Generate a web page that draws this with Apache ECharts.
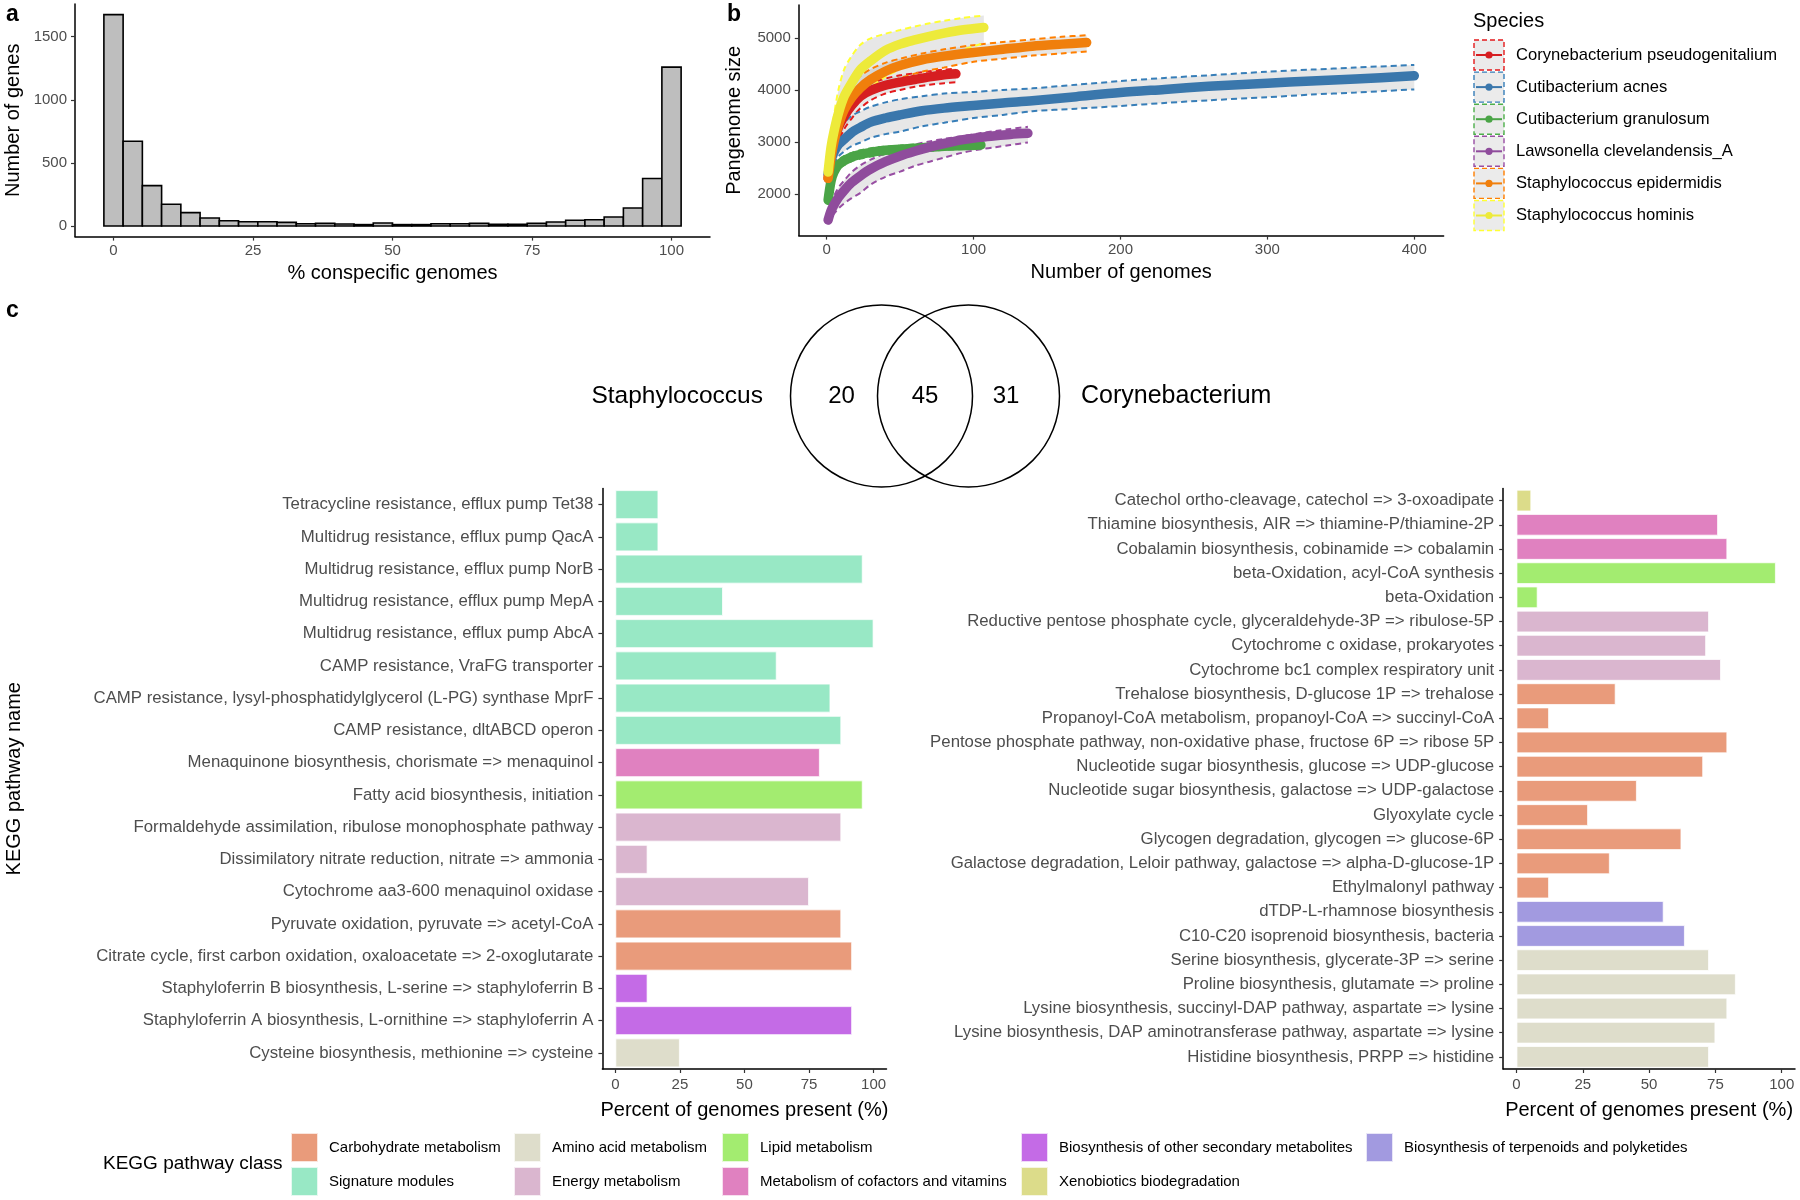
<!DOCTYPE html>
<html><head><meta charset="utf-8">
<script src="https://cdn.jsdelivr.net/npm/echarts@6/dist/echarts.min.js"></script>
<style>html,body{margin:0;padding:0;background:#fff}#chart{width:1800px;height:1200px}</style>
</head><body><div id="chart"></div>
<script>
// ---------- Panel a: histogram ----------
const histCounts = [1675, 672, 320, 172, 106, 63, 42, 34, 34, 29, 18, 21, 16, 11, 24, 11, 11, 18, 18, 21, 13, 13, 21, 32, 45, 50, 71, 143, 376, 1259];
const histXTicks = [0, 25, 50, 75, 100];
const histYTicks = [0, 500, 1000, 1500];

// ---------- Panel b: pangenome rarefaction ----------
const speciesNames = ['Corynebacterium pseudogenitalium', 'Cutibacterium acnes', 'Cutibacterium granulosum', 'Lawsonella clevelandensis_A', 'Staphylococcus epidermidis', 'Staphylococcus hominis'];
const corynN = [1,3,5,8,12,17,23,30,40,50,60,70,80,88];
const corynMean = [2300,2700,2980,3280,3500,3700,3880,3990,4090,4150,4200,4250,4290,4310];
const corynLo = [2150,2500,2750,3000,3250,3450,3650,3800,3930,4000,4060,4100,4130,4150];
const corynHi = [2450,2950,3250,3500,3750,3900,4030,4130,4220,4280,4320,4360,4390,4410];
const acnesN = [1,3,5,8,12,17,23,30,40,50,65,80,100,120,140,170,200,230,260,300,330,360,400];
const acnesMean = [2380,2650,2800,2950,3050,3180,3280,3380,3460,3520,3600,3650,3700,3750,3790,3870,3950,4010,4070,4130,4170,4210,4270];
const acnesLo = [2200,2450,2580,2720,2820,2920,2990,3080,3150,3200,3300,3370,3460,3520,3590,3640,3690,3750,3800,3860,3910,3950,4010];
const acnesHi = [2550,2850,3050,3250,3380,3500,3590,3680,3760,3820,3880,3930,3960,4000,4030,4100,4170,4230,4280,4350,4390,4430,4480];
const granN = [1,3,5,8,12,17,23,30,40,50,60,70,80,90,105];
const granMean = [1880,2250,2420,2560,2640,2710,2760,2800,2840,2860,2880,2900,2915,2925,2940];
const granLo = [1800,2150,2340,2470,2560,2630,2680,2720,2760,2790,2810,2830,2850,2860,2880];
const granHi = [1960,2350,2500,2650,2730,2790,2840,2880,2910,2930,2950,2960,2970,2980,2990];
const lawsN = [1,3,5,8,12,17,23,30,40,50,60,70,80,92,105,115,125,137];
const lawsMean = [1500,1680,1790,1930,2070,2220,2350,2480,2620,2730,2820,2900,2970,3040,3090,3120,3145,3165];
const lawsLo = [1420,1540,1620,1720,1820,1920,2020,2180,2330,2430,2540,2620,2700,2790,2860,2900,2940,2990];
const lawsHi = [1620,1820,1960,2120,2260,2420,2550,2660,2780,2870,2950,3010,3060,3110,3170,3210,3250,3290];
const epiN = [1,3,5,8,12,17,23,30,40,50,65,80,100,120,140,160,177];
const epiMean = [2300,2700,3000,3320,3620,3850,4040,4200,4360,4470,4580,4650,4720,4780,4840,4880,4910];
const epiLo = [2200,2500,2750,3050,3400,3600,3800,3980,4120,4230,4350,4430,4540,4600,4660,4700,4740];
const epiHi = [2400,2900,3250,3600,3900,4100,4270,4400,4520,4600,4700,4780,4860,4920,4970,5020,5050];
const homN = [1,3,5,8,12,17,23,30,40,50,60,70,80,92,107];
const homMean = [2420,2900,3200,3550,3880,4130,4390,4560,4760,4880,4960,5030,5090,5150,5200];
const homLo = [2250,2600,2900,3250,3500,3700,3880,4050,4250,4400,4520,4610,4690,4770,4900];
const homHi = [2650,3050,3500,4000,4400,4650,4870,4990,5080,5150,5220,5280,5330,5380,5430];
const pangenomeXTicks = [0, 100, 200, 300, 400];
const pangenomeYTicks = [2000, 3000, 4000, 5000];

// ---------- Panel c: Venn ----------
const vennSetNames = ['Staphylococcus', 'Corynebacterium'];
const vennCounts = [20, 45, 31];

// ---------- Panel c: KEGG bars ----------
const leftPathways = ['Tetracycline resistance, efflux pump Tet38','Multidrug resistance, efflux pump QacA','Multidrug resistance, efflux pump NorB','Multidrug resistance, efflux pump MepA','Multidrug resistance, efflux pump AbcA','CAMP resistance, VraFG transporter','CAMP resistance, lysyl-phosphatidylglycerol (L-PG) synthase MprF','CAMP resistance, dltABCD operon','Menaquinone biosynthesis, chorismate => menaquinol','Fatty acid biosynthesis, initiation','Formaldehyde assimilation, ribulose monophosphate pathway','Dissimilatory nitrate reduction, nitrate => ammonia','Cytochrome aa3-600 menaquinol oxidase','Pyruvate oxidation, pyruvate => acetyl-CoA','Citrate cycle, first carbon oxidation, oxaloacetate => 2-oxoglutarate','Staphyloferrin B biosynthesis, L-serine => staphyloferrin B','Staphyloferrin A biosynthesis, L-ornithine => staphyloferrin A','Cysteine biosynthesis, methionine => cysteine'];
const leftPercent = [16.7,16.7,95.8,41.7,100,62.5,83.3,87.5,79.2,95.8,87.5,12.5,75,87.5,91.7,12.5,91.7,25];
const leftClass = ['Signature modules','Signature modules','Signature modules','Signature modules','Signature modules','Signature modules','Signature modules','Signature modules','Metabolism of cofactors and vitamins','Lipid metabolism','Energy metabolism','Energy metabolism','Energy metabolism','Carbohydrate metabolism','Carbohydrate metabolism','Biosynthesis of other secondary metabolites','Biosynthesis of other secondary metabolites','Amino acid metabolism'];
const rightPathways = ['Catechol ortho-cleavage, catechol => 3-oxoadipate','Thiamine biosynthesis, AIR => thiamine-P/thiamine-2P','Cobalamin biosynthesis, cobinamide => cobalamin','beta-Oxidation, acyl-CoA synthesis','beta-Oxidation','Reductive pentose phosphate cycle, glyceraldehyde-3P => ribulose-5P','Cytochrome c oxidase, prokaryotes','Cytochrome bc1 complex respiratory unit','Trehalose biosynthesis, D-glucose 1P => trehalose','Propanoyl-CoA metabolism, propanoyl-CoA => succinyl-CoA','Pentose phosphate pathway, non-oxidative phase, fructose 6P => ribose 5P','Nucleotide sugar biosynthesis, glucose => UDP-glucose','Nucleotide sugar biosynthesis, galactose => UDP-galactose','Glyoxylate cycle','Glycogen degradation, glycogen => glucose-6P','Galactose degradation, Leloir pathway, galactose => alpha-D-glucose-1P','Ethylmalonyl pathway','dTDP-L-rhamnose biosynthesis','C10-C20 isoprenoid biosynthesis, bacteria','Serine biosynthesis, glycerate-3P => serine','Proline biosynthesis, glutamate => proline','Lysine biosynthesis, succinyl-DAP pathway, aspartate => lysine','Lysine biosynthesis, DAP aminotransferase pathway, aspartate => lysine','Histidine biosynthesis, PRPP => histidine'];
const rightPercent = [5.6,76,79.5,97.8,8,72.6,71.5,77.1,37.4,12.3,79.5,70.4,45.4,27,62.2,35.2,12.3,55.5,63.5,72.6,82.7,79.5,75,72.6];
const rightClass = ['Xenobiotics biodegradation','Metabolism of cofactors and vitamins','Metabolism of cofactors and vitamins','Lipid metabolism','Lipid metabolism','Energy metabolism','Energy metabolism','Energy metabolism','Carbohydrate metabolism','Carbohydrate metabolism','Carbohydrate metabolism','Carbohydrate metabolism','Carbohydrate metabolism','Carbohydrate metabolism','Carbohydrate metabolism','Carbohydrate metabolism','Carbohydrate metabolism','Biosynthesis of terpenoids and polyketides','Biosynthesis of terpenoids and polyketides','Amino acid metabolism','Amino acid metabolism','Amino acid metabolism','Amino acid metabolism','Amino acid metabolism'];
const classNames = ['Carbohydrate metabolism','Signature modules','Amino acid metabolism','Energy metabolism','Lipid metabolism','Metabolism of cofactors and vitamins','Biosynthesis of other secondary metabolites','Xenobiotics biodegradation','Biosynthesis of terpenoids and polyketides'];
const percentTicks = [0, 25, 50, 75, 100];

// ---------- styles ----------
const FONT = '"Liberation Sans", Arial, sans-serif';
const classColors = {
  'Carbohydrate metabolism': '#E99B7B',
  'Signature modules': '#98E8C5',
  'Amino acid metabolism': '#DEDDCB',
  'Energy metabolism': '#DAB6CF',
  'Lipid metabolism': '#A3EC70',
  'Metabolism of cofactors and vitamins': '#E081C0',
  'Biosynthesis of other secondary metabolites': '#C46BE6',
  'Xenobiotics biodegradation': '#DCDC8A',
  'Biosynthesis of terpenoids and polyketides': '#A29AE0'
};
const meanColors = ['#D61E21', '#3A77AC', '#4AA446', '#8F4C9C', '#F07F0C', '#EDEA3A'];
const dashColors = ['#E41A1C', '#377EB8', '#4DAF4A', '#984EA3', '#FF7F00', '#FFFF33'];
const speciesData = [
  [corynN, corynMean, corynLo, corynHi],
  [acnesN, acnesMean, acnesLo, acnesHi],
  [granN, granMean, granLo, granHi],
  [lawsN, lawsMean, lawsLo, lawsHi],
  [epiN, epiMean, epiLo, epiHi],
  [homN, homMean, homLo, homHi]
];
const zip = (a, b) => a.map((v, i) => [v, b[i]]);

const axisLineStyle = { show: true, onZero: false, lineStyle: { color: '#000', width: 1.5 } };
const tickStyle = (vals) => ({ show: true, length: 4, lineStyle: { color: '#333', width: 1.2 }, customValues: vals });
const labelStyle = (vals, size, margin) => ({ color: '#4D4D4D', fontSize: size, fontFamily: FONT, customValues: vals, margin: margin, formatter: v => String(v) });
const nameStyle = { color: '#000', fontSize: 20, fontFamily: FONT };

const binW = 100 / 29;
const series = [];

// histogram
series.push({
  type: 'custom', xAxisIndex: 0, yAxisIndex: 0, silent: true,
  data: histCounts.map((c, i) => [i * binW, c]),
  encode: { x: 0, y: 1 },
  renderItem: (params, api) => {
    const x = api.value(0), c = api.value(1);
    const p0 = api.coord([x - binW / 2, c]);
    const p1 = api.coord([x + binW / 2, 0]);
    return { type: 'rect', shape: { x: p0[0], y: p0[1], width: p1[0] - p0[0], height: p1[1] - p0[1] },
      style: { fill: '#BEBEBE', stroke: '#000', lineWidth: 1.6 } };
  }
});

// ribbons
speciesData.forEach((sd, s) => {
  const [N, M, Lo, Hi] = sd;
  series.push({
    type: 'custom', xAxisIndex: 1, yAxisIndex: 1, silent: true, z: 1,
    data: [[N[0], Lo[0]]], encode: { x: 0, y: 1 },
    renderItem: (params, api) => {
      const pts = [];
      for (let i = 0; i < N.length; i++) pts.push(api.coord([N[i], Hi[i]]));
      for (let i = N.length - 1; i >= 0; i--) pts.push(api.coord([N[i], Lo[i]]));
      return { type: 'polygon', shape: { points: pts }, style: { fill: 'rgba(175,175,175,0.3)' } };
    }
  });
});
// dashed bounds
speciesData.forEach((sd, s) => {
  const [N, M, Lo, Hi] = sd;
  [Lo, Hi].forEach(arr => series.push({
    type: 'line', xAxisIndex: 1, yAxisIndex: 1, silent: true, z: 2, showSymbol: false, smooth: 0.3,
    data: zip(N, arr), lineStyle: { type: [6, 4], width: 2, color: dashColors[s] }
  }));
});
// means
speciesData.forEach((sd, s) => {
  const [N, M] = sd;
  series.push({
    type: 'line', name: speciesNames[s], xAxisIndex: 1, yAxisIndex: 1, silent: true, z: 3, showSymbol: false, smooth: 0.3,
    data: zip(N, M), lineStyle: { width: 9.5, color: meanColors[s], cap: 'round', join: 'round' }
  });
});

// Venn
series.push({
  type: 'custom', xAxisIndex: 4, yAxisIndex: 4, silent: true,
  data: [[0, 0]], encode: { x: 0, y: 1 },
  renderItem: (params, api) => {
    const r = api.size([0.91, 0])[0];
    const cL = api.coord([-0.435, 0]), cR = api.coord([0.435, 0]);
    const numX = [-0.835, 0, 0.81];
    const children = [
      { type: 'circle', shape: { cx: cL[0], cy: cL[1], r: r }, style: { fill: 'none', stroke: '#000', lineWidth: 1.5 } },
      { type: 'circle', shape: { cx: cR[0], cy: cR[1], r: r }, style: { fill: 'none', stroke: '#000', lineWidth: 1.5 } }
    ];
    vennCounts.forEach((c, i) => {
      const p = api.coord([numX[i], 0]);
      children.push({ type: 'text', x: p[0], y: p[1], style: { text: String(c), fill: '#000', font: '24px ' + FONT, align: 'center', textAlign: 'center', verticalAlign: 'middle', textVerticalAlign: 'middle' } });
    });
    const pl = api.coord([-1.62, 0]), pr = api.coord([1.56, 0]);
    children.push({ type: 'text', x: pl[0], y: pl[1], style: { text: vennSetNames[0], fill: '#000', font: '24.5px ' + FONT, align: 'right', textAlign: 'right', verticalAlign: 'middle', textVerticalAlign: 'middle' } });
    children.push({ type: 'text', x: pr[0], y: pr[1], style: { text: vennSetNames[1], fill: '#000', font: '25px ' + FONT, align: 'left', textAlign: 'left', verticalAlign: 'middle', textVerticalAlign: 'middle' } });
    return { type: 'group', children };
  }
});

// bars
function addBars(vals, cls, axisIdx, stackName) {
  classNames.forEach(c => {
    if (!cls.includes(c)) return;
    series.push({
      type: 'bar', name: c, xAxisIndex: axisIdx, yAxisIndex: axisIdx, stack: stackName, barCategoryGap: '10%', silent: true,
      data: vals.map((v, i) => cls[i] === c ? v : '-'),
      itemStyle: { color: classColors[c], borderColor: 'rgba(255,255,255,0.75)', borderWidth: 1 }
    });
  });
}
addBars(leftPercent, leftClass, 2, 'left');
addBars(rightPercent, rightClass, 3, 'right');

const legendCols = [
  { left: 290, data: ['Carbohydrate metabolism', 'Signature modules'] },
  { left: 513, data: ['Amino acid metabolism', 'Energy metabolism'] },
  { left: 721, data: ['Lipid metabolism', 'Metabolism of cofactors and vitamins'] },
  { left: 1020, data: ['Biosynthesis of other secondary metabolites', 'Xenobiotics biodegradation'] },
  { left: 1365, data: ['Biosynthesis of terpenoids and polyketides'] }
];

const graphics = [
  { type: 'text', x: 6, y: 15, style: { text: 'a', font: 'bold 23px ' + FONT, fill: '#000', verticalAlign: 'middle', textVerticalAlign: 'middle' } },
  { type: 'text', x: 727, y: 15, style: { text: 'b', font: 'bold 23px ' + FONT, fill: '#000', verticalAlign: 'middle', textVerticalAlign: 'middle' } },
  { type: 'text', x: 6, y: 311, style: { text: 'c', font: 'bold 23px ' + FONT, fill: '#000', verticalAlign: 'middle', textVerticalAlign: 'middle' } },
  { type: 'text', x: 1473, y: 21, style: { text: 'Species', font: '20px ' + FONT, fill: '#000', verticalAlign: 'middle', textVerticalAlign: 'middle' } },
  { type: 'text', x: 103, y: 1164, style: { text: 'KEGG pathway class', font: '19px ' + FONT, fill: '#000', verticalAlign: 'middle', textVerticalAlign: 'middle' } }
];
speciesNames.forEach((nm, i) => {
  const cy = 55 + 32.1 * i;
  graphics.push({ type: 'rect', shape: { x: 1474, y: cy - 15, width: 30, height: 30 }, style: { fill: '#EBEBEB', stroke: dashColors[i], lineWidth: 1.4, lineDash: [5, 3] } });
  graphics.push({ type: 'line', shape: { x1: 1476, y1: cy, x2: 1502, y2: cy }, style: { stroke: meanColors[i], lineWidth: 2 } });
  graphics.push({ type: 'circle', shape: { cx: 1489, cy: cy, r: 3.6 }, style: { fill: meanColors[i] } });
  graphics.push({ type: 'text', x: 1516, y: cy, style: { text: nm, font: '16.6px ' + FONT, fill: '#000', verticalAlign: 'middle', textVerticalAlign: 'middle' } });
});

const catLabel = { interval: 0, color: '#4D4D4D', fontSize: 16.8, fontFamily: FONT, margin: 9 };
const catTick = { show: true, alignWithLabel: true, length: 4, lineStyle: { color: '#333', width: 1.2 } };

const option = {
  animation: false,
  backgroundColor: '#fff',
  textStyle: { fontFamily: FONT },
  grid: [
    { left: 75, top: 4, width: 635, height: 232.6, outerBoundsMode: 'none' },
    { left: 798.8, top: 5.1, width: 644.8, height: 230.5, outerBoundsMode: 'none' },
    { left: 602.4, top: 488.5, width: 284.1, height: 580.5, outerBoundsMode: 'none' },
    { left: 1503.2, top: 488.5, width: 291.8, height: 580.5, outerBoundsMode: 'none' },
    { left: 700, top: 296, width: 450, height: 200, outerBoundsMode: 'none' }
  ],
  xAxis: [
    { type: 'value', gridIndex: 0, min: -6.9, max: 106.9, axisLine: axisLineStyle, axisTick: tickStyle(histXTicks), axisLabel: labelStyle(histXTicks, 15, 7), splitLine: { show: false },
      name: '% conspecific genomes', nameLocation: 'middle', nameGap: 27, nameTextStyle: nameStyle },
    { type: 'value', gridIndex: 1, min: -18.95, max: 419.95, axisLine: axisLineStyle, axisTick: tickStyle(pangenomeXTicks), axisLabel: labelStyle(pangenomeXTicks, 15, 7), splitLine: { show: false },
      name: 'Number of genomes', nameLocation: 'middle', nameGap: 27, nameTextStyle: nameStyle },
    { type: 'value', gridIndex: 2, min: -5, max: 105, axisLine: axisLineStyle, axisTick: tickStyle(percentTicks), axisLabel: labelStyle(percentTicks, 15, 8), splitLine: { show: false },
      name: 'Percent of genomes present (%)', nameLocation: 'middle', nameGap: 31, nameTextStyle: nameStyle },
    { type: 'value', gridIndex: 3, min: -5, max: 105, axisLine: axisLineStyle, axisTick: tickStyle(percentTicks), axisLabel: labelStyle(percentTicks, 15, 8), splitLine: { show: false },
      name: 'Percent of genomes present (%)', nameLocation: 'middle', nameGap: 31, nameTextStyle: nameStyle },
    { type: 'value', gridIndex: 4, min: -2.25, max: 2.25, show: false }
  ],
  yAxis: [
    { type: 'value', gridIndex: 0, min: -84, max: 1759, axisLine: axisLineStyle, axisTick: tickStyle(histYTicks), axisLabel: labelStyle(histYTicks, 15, 8), splitLine: { show: false },
      name: 'Number of genes', nameLocation: 'middle', nameGap: 52, nameRotate: 90, nameTextStyle: nameStyle },
    { type: 'value', gridIndex: 1, min: 1200, max: 5630, axisLine: axisLineStyle, axisTick: tickStyle(pangenomeYTicks), axisLabel: labelStyle(pangenomeYTicks, 15, 8), splitLine: { show: false },
      name: 'Pangenome size', nameLocation: 'middle', nameGap: 54, nameRotate: 90, nameTextStyle: nameStyle },
    { type: 'category', gridIndex: 2, data: leftPathways, inverse: true, axisLine: axisLineStyle, axisTick: catTick,
      axisLabel: catLabel, splitLine: { show: false },
      name: 'KEGG pathway name', nameLocation: 'middle', nameGap: 578, nameRotate: 90, nameTextStyle: nameStyle },
    { type: 'category', gridIndex: 3, data: rightPathways, inverse: true, axisLine: axisLineStyle, axisTick: catTick,
      axisLabel: catLabel, splitLine: { show: false } },
    { type: 'value', gridIndex: 4, min: -1, max: 1, show: false }
  ],
  legend: legendCols.map(c => ({
    left: c.left, top: 1132, orient: 'vertical', padding: 0, itemWidth: 27, itemHeight: 29, itemGap: 3, icon: 'rect',
    selectedMode: false, data: c.data,
    textStyle: { fontSize: 15, color: '#000', fontFamily: FONT, padding: [0, 0, 0, 6] }
  })),
  graphic: { elements: graphics },
  series: series
};

const chart = echarts.init(document.getElementById('chart'), null, { renderer: 'canvas', width: 1800, height: 1200 });
chart.setOption(option);
</script></body></html>
